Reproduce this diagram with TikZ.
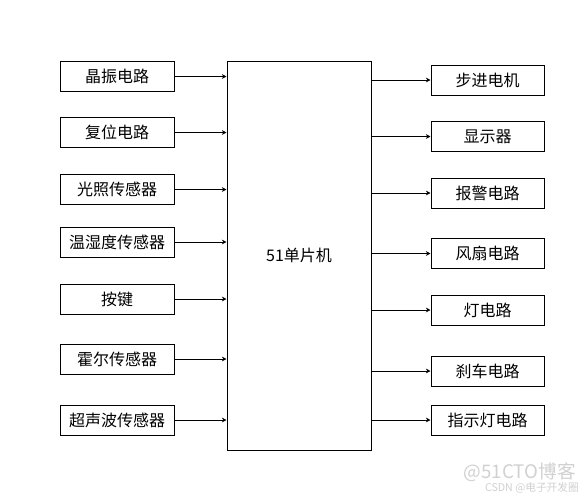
\documentclass[tikz,border=0pt]{standalone}
\usepackage{fontspec}
\setmainfont{Noto Sans CJK SC}
\usetikzlibrary{arrows.meta}
\tikzset{
  box/.style={draw, line width=0.75pt, inner sep=0pt, minimum width=85.5pt, minimum height=22.5pt, font=\fontsize{12pt}{14pt}\selectfont},
  rbox/.style={box, minimum width=84.75pt},
  link/.style={line width=0.75pt, -{Stealth[length=3.5pt,width=3.5pt]}},
  wm/.style={text=black!18, inner sep=0pt}
}
\begin{document}
\begin{tikzpicture}[x=0.75pt,y=-0.75pt]
\useasboundingbox[fill=white] (0,0) rectangle (582,497);
\node[draw, line width=0.75pt, inner sep=0pt, minimum width=108pt, minimum height=291.75pt, font=\fontsize{12pt}{14pt}\selectfont] (mcu) at (299,255.5) {51单片机};
% left inputs
\node[box] (l1) at (117,76.5) {晶振电路};
\node[box] (l2) at (117,132.5) {复位电路};
\node[box] (l3) at (117,189.5) {光照传感器};
\node[box] (l4) at (117,242) {温湿度传感器};
\node[box] (l5) at (117,299) {按键};
\node[box] (l6) at (117,359) {霍尔传感器};
\node[box] (l7) at (117,420) {超声波传感器};
% right outputs
\node[rbox] (r1) at (487.5,80) {步进电机};
\node[rbox] (r2) at (487.5,136.5) {显示器};
\node[rbox] (r3) at (487.5,193) {报警电路};
\node[rbox] (r4) at (487.5,253.5) {风扇电路};
\node[rbox] (r5) at (487.5,310) {灯电路};
\node[rbox] (r6) at (487.5,371) {刹车电路};
\node[rbox] (r7) at (487.5,420) {指示灯电路};
\foreach \i in {1,...,7}{
  \draw[link] (l\i.east) -- (l\i.east -| mcu.west);
  \draw[link] (mcu.east |- r\i.west) -- (r\i.west);
}
\node[wm, font=\fontsize{14pt}{16pt}\selectfont, anchor=south east] (wm1) at (576,482) {@51CTO博客};
\node[wm, font=\fontsize{8pt}{9pt}\selectfont, anchor=south east] (wm2) at (579,494) {CSDN @电子开发圈};
\end{tikzpicture}
\end{document}
